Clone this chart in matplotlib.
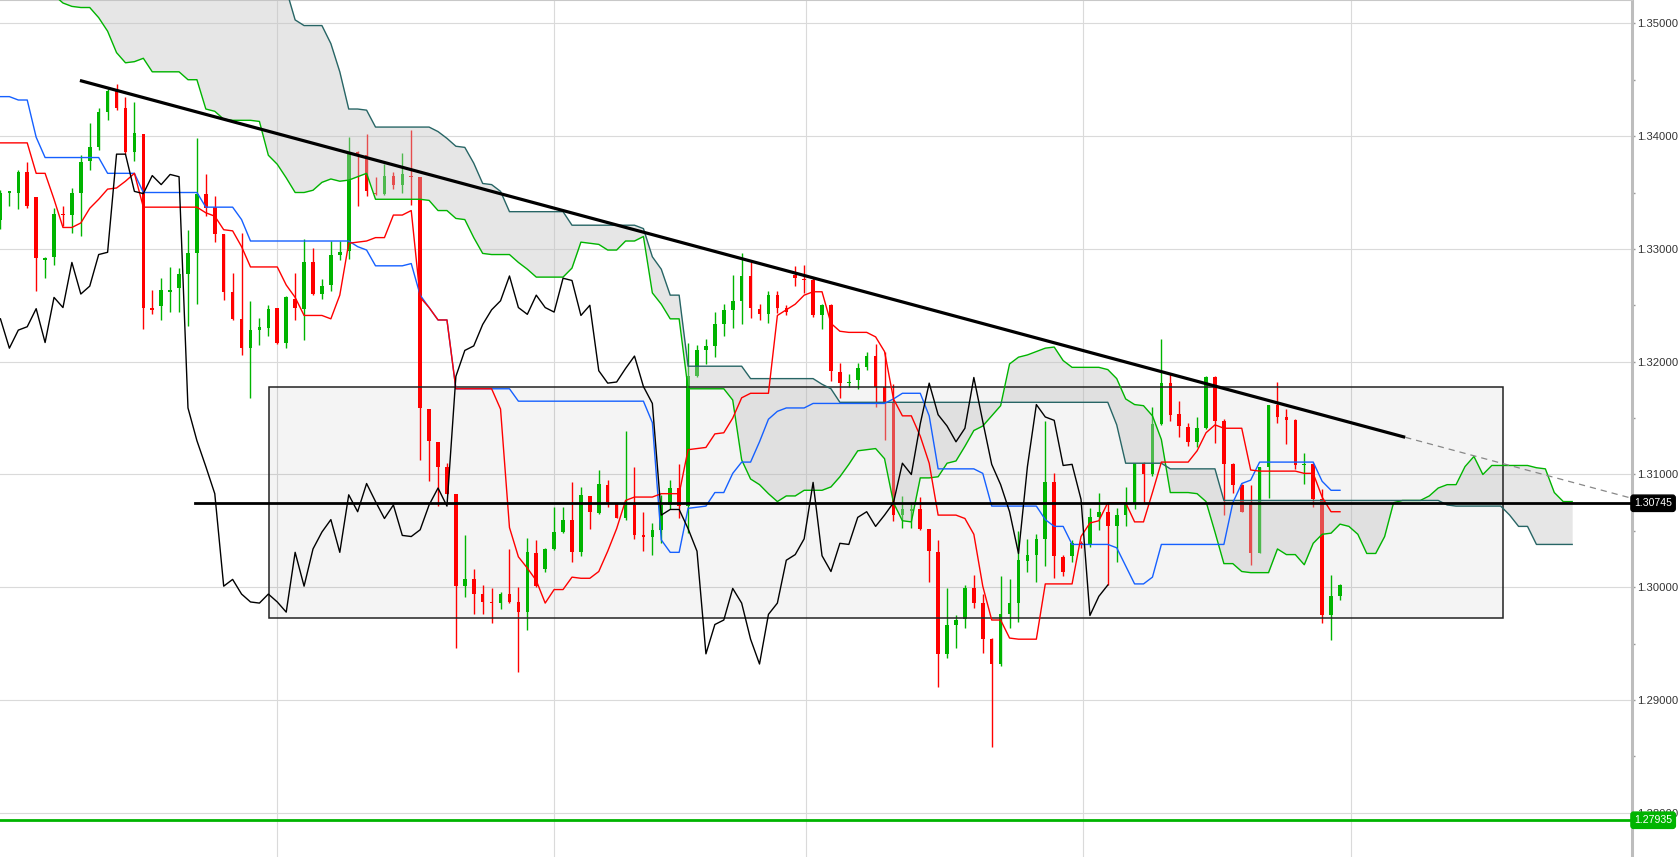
import matplotlib
matplotlib.use("Agg")
import matplotlib.pyplot as plt
from matplotlib.patches import Rectangle
from matplotlib.ticker import MultipleLocator, FormatStrFormatter
import numpy as np

plt.rcParams['font.family'] = ['Liberation Sans', 'DejaVu Sans']

# candles (one per period, index 0..150)
opens = [
    1.3326, 1.3350, 1.3350, 1.3368, 1.3346, 1.3290, 1.3293, 1.3331, 1.3330, 1.3350,
    1.3378, 1.3390, 1.3421, 1.3440, 1.3425, 1.3386, 1.3402, 1.3248, 1.3249, 1.3262,
    1.3265, 1.3278, 1.3296, 1.3349, 1.3337, 1.3313, 1.3262, 1.3238, 1.3212, 1.3228,
    1.3230, 1.3248, 1.3217, 1.3256, 1.3247, 1.3288, 1.3260, 1.3268, 1.3295, 1.3298,
    1.3386, 1.3383, 1.3350, 1.3349, 1.3365, 1.3357, 1.3365, 1.3364, 1.3158, 1.3129,
    1.3107, 1.3083, 1.3001, 1.3007, 1.2994, 1.2987, 1.2986, 1.2994, 1.2987, 1.2978,
    1.3030, 1.3016, 1.3034, 1.3049, 1.3060, 1.3031, 1.3081, 1.3066, 1.3091, 1.3074,
    1.3061, 1.3073, 1.3046, 1.3045, 1.3051, 1.3073, 1.3088, 1.3072, 1.3187, 1.3210,
    1.3214, 1.3233, 1.3246, 1.3254, 1.3276, 1.3247, 1.3242, 1.3259, 1.3248, 1.3277,
    1.3273, 1.3272, 1.3241, 1.3250, 1.3191, 1.3181, 1.3184, 1.3195, 1.3205, 1.3178,
    1.3163, 1.3064, 1.3068, 1.3069, 1.3052, 1.3031, 1.2941, 1.2967, 1.2972, 1.2999,
    1.2986, 1.2954, 1.2932, 1.2976, 1.2986, 1.3023, 1.3029, 1.3043, 1.3093, 1.3027,
    1.3028, 1.3039, 1.3038, 1.3062, 1.3067, 1.3054, 1.3064, 1.3075, 1.3110, 1.3100,
    1.3145, 1.3181, 1.3154, 1.3142, 1.3129, 1.3141, 1.3186, 1.3147, 1.3109, 1.3091,
    1.3075, 1.3030, 1.3107, 1.3162, 1.3151, 1.3148, 1.3108, 1.3109, 1.3078, 1.2975,
    1.2992,
]
highs = [
    1.3352, 1.3351, 1.3370, 1.3377, 1.3346, 1.3293, 1.3336, 1.3338, 1.3354, 1.3383,
    1.3412, 1.3425, 1.3442, 1.3446, 1.3435, 1.3430, 1.3402, 1.3264, 1.3274, 1.3284,
    1.3283, 1.3317, 1.3398, 1.3366, 1.3347, 1.3313, 1.3279, 1.3314, 1.3254, 1.3239,
    1.3250, 1.3248, 1.3258, 1.3279, 1.3309, 1.3301, 1.3273, 1.3307, 1.3307, 1.3399,
    1.3387, 1.3402, 1.3364, 1.3375, 1.3368, 1.3385, 1.3405, 1.3364, 1.3158, 1.3129,
    1.3110, 1.3083, 1.3046, 1.3016, 1.3002, 1.2999, 1.2996, 1.3034, 1.3000, 1.3044,
    1.3042, 1.3035, 1.3071, 1.3071, 1.3093, 1.3089, 1.3081, 1.3104, 1.3095, 1.3074,
    1.3139, 1.3107, 1.3067, 1.3057, 1.3082, 1.3095, 1.3109, 1.3217, 1.3215, 1.3220,
    1.3244, 1.3251, 1.3277, 1.3296, 1.3288, 1.3251, 1.3263, 1.3263, 1.3250, 1.3285,
    1.3286, 1.3274, 1.3251, 1.3251, 1.3199, 1.3189, 1.3199, 1.3209, 1.3216, 1.3209,
    1.3180, 1.3081, 1.3075, 1.3080, 1.3052, 1.3042, 1.2999, 1.2975, 1.3002, 1.3011,
    1.2994, 1.2955, 1.3010, 1.3007, 1.3050, 1.3043, 1.3047, 1.3147, 1.3101, 1.3029,
    1.3042, 1.3041, 1.3070, 1.3084, 1.3075, 1.3070, 1.3089, 1.3110, 1.3111, 1.3160,
    1.3220, 1.3189, 1.3165, 1.3146, 1.3151, 1.3187, 1.3187, 1.3149, 1.3110, 1.3092,
    1.3091, 1.3107, 1.3162, 1.3182, 1.3158, 1.3149, 1.3119, 1.3110, 1.3087, 1.3011,
    1.3003,
]
lows = [
    1.3318, 1.3338, 1.3335, 1.3336, 1.3263, 1.3274, 1.3286, 1.3320, 1.3314, 1.3311,
    1.3370, 1.3388, 1.3414, 1.3423, 1.3384, 1.3378, 1.3229, 1.3242, 1.3237, 1.3244,
    1.3244, 1.3232, 1.3251, 1.3329, 1.3306, 1.3255, 1.3237, 1.3206, 1.3168, 1.3215,
    1.3223, 1.3216, 1.3212, 1.3237, 1.3219, 1.3259, 1.3256, 1.3263, 1.3290, 1.3291,
    1.3338, 1.3347, 1.3348, 1.3348, 1.3353, 1.3350, 1.3339, 1.3113, 1.3094, 1.3072,
    1.3083, 1.2946, 1.2991, 1.2976, 1.2976, 1.2968, 1.2981, 1.2986, 1.2925, 1.2962,
    1.3000, 1.3014, 1.3033, 1.3048, 1.3022, 1.3028, 1.3052, 1.3065, 1.3071, 1.3061,
    1.3060, 1.3043, 1.3032, 1.3029, 1.3039, 1.3069, 1.3061, 1.3048, 1.3186, 1.3198,
    1.3204, 1.3223, 1.3230, 1.3233, 1.3239, 1.3237, 1.3234, 1.3243, 1.3241, 1.3267,
    1.3261, 1.3240, 1.3229, 1.3183, 1.3168, 1.3178, 1.3176, 1.3193, 1.3160, 1.3131,
    1.3059, 1.3053, 1.3053, 1.3051, 1.3005, 1.2912, 1.2937, 1.2946, 1.2964, 1.2982,
    1.2942, 1.2858, 1.2930, 1.2964, 1.2969, 1.3014, 1.3005, 1.3019, 1.3008, 1.3010,
    1.3022, 1.3035, 1.3036, 1.3051, 1.3002, 1.3022, 1.3054, 1.3069, 1.3075, 1.3099,
    1.3144, 1.3147, 1.3133, 1.3125, 1.3124, 1.3140, 1.3128, 1.3064, 1.3084, 1.3067,
    1.3020, 1.3030, 1.3079, 1.3146, 1.3127, 1.3105, 1.3092, 1.3071, 1.2968, 1.2953,
    1.2989,
]
closes = [
    1.3350, 1.3351, 1.3368, 1.3338, 1.3292, 1.3292, 1.3331, 1.3330, 1.3350, 1.3377,
    1.3390, 1.3421, 1.3440, 1.3425, 1.3386, 1.3403, 1.3248, 1.3246, 1.3264, 1.3264,
    1.3278, 1.3296, 1.3349, 1.3336, 1.3313, 1.3262, 1.3238, 1.3212, 1.3228, 1.3231,
    1.3247, 1.3217, 1.3257, 1.3248, 1.3288, 1.3260, 1.3267, 1.3295, 1.3297, 1.3384,
    1.3384, 1.3351, 1.3349, 1.3365, 1.3357, 1.3366, 1.3364, 1.3159, 1.3130, 1.3107,
    1.3083, 1.3001, 1.3007, 1.2994, 1.2987, 1.2986, 1.2994, 1.2987, 1.2978, 1.3031,
    1.3001, 1.3034, 1.3049, 1.3060, 1.3031, 1.3082, 1.3067, 1.3092, 1.3076, 1.3061,
    1.3073, 1.3046, 1.3045, 1.3051, 1.3073, 1.3088, 1.3072, 1.3187, 1.3210, 1.3214,
    1.3233, 1.3246, 1.3254, 1.3276, 1.3248, 1.3242, 1.3259, 1.3248, 1.3244, 1.3274,
    1.3272, 1.3241, 1.3250, 1.3192, 1.3181, 1.3182, 1.3194, 1.3205, 1.3178, 1.3163,
    1.3064, 1.3069, 1.3069, 1.3052, 1.3032, 1.2941, 1.2967, 1.2971, 1.2999, 1.2986,
    1.2954, 1.2932, 1.2976, 1.2986, 1.3024, 1.3029, 1.3043, 1.3093, 1.3028, 1.3014,
    1.3039, 1.3038, 1.3062, 1.3067, 1.3054, 1.3064, 1.3075, 1.3110, 1.3100, 1.3145,
    1.3181, 1.3153, 1.3143, 1.3129, 1.3141, 1.3186, 1.3147, 1.3109, 1.3091, 1.3067,
    1.3030, 1.3107, 1.3162, 1.3151, 1.3148, 1.3108, 1.3109, 1.3078, 1.2975, 1.2992,
    1.3002,
]

# ichimoku lines
tenkan = [
    1.3394, 1.3394, 1.3394, 1.3394, 1.3367, 1.3367, 1.3344, 1.3319, 1.3319, 1.3323,
    1.3336, 1.3344, 1.3353, 1.3354, 1.3360, 1.3367, 1.3337, 1.3337, 1.3337, 1.3337,
    1.3337, 1.3337, 1.3337, 1.3332, 1.3329, 1.3317, 1.3316, 1.3302, 1.3284, 1.3284,
    1.3284, 1.3284, 1.3268, 1.3257, 1.3241, 1.3241, 1.3241, 1.3238, 1.3259, 1.3305,
    1.3306, 1.3307, 1.3310, 1.3310, 1.3330, 1.3330, 1.3334, 1.3257, 1.3248, 1.3237,
    1.3237, 1.3176, 1.3176, 1.3176, 1.3176, 1.3176, 1.3158, 1.3053, 1.3027, 1.3017,
    1.3006, 1.2986, 1.2998, 1.2998, 1.3009, 1.3008, 1.3008, 1.3014, 1.3032, 1.3052,
    1.3077, 1.3080, 1.3080, 1.3080, 1.3083, 1.3083, 1.3083, 1.3122, 1.3123, 1.3124,
    1.3136, 1.3137, 1.3150, 1.3168, 1.3172, 1.3172, 1.3172, 1.3241, 1.3246, 1.3251,
    1.3259, 1.3262, 1.3262, 1.3234, 1.3227, 1.3226, 1.3226, 1.3226, 1.3222, 1.3209,
    1.3167, 1.3152, 1.3152, 1.3134, 1.3110, 1.3064, 1.3064, 1.3064, 1.3061, 1.3047,
    1.3001, 1.2971, 1.2971, 1.2955, 1.2954, 1.2954, 1.2954, 1.3003, 1.3003, 1.3003,
    1.3003, 1.3045, 1.3057, 1.3059, 1.3075, 1.3075, 1.3075, 1.3058, 1.3058, 1.3084,
    1.3111, 1.3111, 1.3111, 1.3111, 1.3121, 1.3137, 1.3144, 1.3141, 1.3141, 1.3141,
    1.3104, 1.3103, 1.3103, 1.3103, 1.3103, 1.3103, 1.3101, 1.3101, 1.3080, 1.3067,
    1.3067,
]
kijun = [
    1.3435, 1.3435, 1.3432, 1.3432, 1.3399, 1.3381, 1.3381, 1.3381, 1.3381, 1.3381,
    1.3381, 1.3381, 1.3367, 1.3367, 1.3367, 1.3367, 1.3350, 1.3350, 1.3350, 1.3350,
    1.3350, 1.3350, 1.3350, 1.3337, 1.3337, 1.3337, 1.3337, 1.3326, 1.3307, 1.3307,
    1.3307, 1.3307, 1.3307, 1.3307, 1.3307, 1.3307, 1.3307, 1.3307, 1.3307, 1.3307,
    1.3302, 1.3299, 1.3285, 1.3285, 1.3285, 1.3285, 1.3287, 1.3259, 1.3248, 1.3237,
    1.3237, 1.3176, 1.3176, 1.3176, 1.3176, 1.3176, 1.3176, 1.3176, 1.3165, 1.3165,
    1.3165, 1.3165, 1.3165, 1.3165, 1.3165, 1.3165, 1.3165, 1.3165, 1.3165, 1.3165,
    1.3165, 1.3165, 1.3165, 1.3146, 1.3042, 1.3031, 1.3031, 1.3070, 1.3071, 1.3072,
    1.3084, 1.3084, 1.3101, 1.3111, 1.3111, 1.3129, 1.3149, 1.3156, 1.3159, 1.3159,
    1.3159, 1.3163, 1.3163, 1.3163, 1.3163, 1.3163, 1.3163, 1.3163, 1.3163, 1.3163,
    1.3167, 1.3172, 1.3172, 1.3172, 1.3152, 1.3105, 1.3105, 1.3105, 1.3105, 1.3105,
    1.3101, 1.3072, 1.3072, 1.3072, 1.3072, 1.3072, 1.3072, 1.3060, 1.3054, 1.3054,
    1.3038, 1.3038, 1.3038, 1.3038, 1.3038, 1.3035, 1.3019, 1.3003, 1.3003, 1.3009,
    1.3038, 1.3038, 1.3038, 1.3038, 1.3038, 1.3038, 1.3038, 1.3038, 1.3075, 1.3092,
    1.3095, 1.3111, 1.3111, 1.3111, 1.3111, 1.3111, 1.3111, 1.3111, 1.3094, 1.3086,
    1.3086,
]
# senkou spans, already displaced 26 periods ahead (index 0..176)
senkou_a = [
    1.3560, 1.3555, 1.3550, 1.3545, 1.3540, 1.3532, 1.3525, 1.3518, 1.3515, 1.3514,
    1.3514, 1.3505, 1.3493, 1.3474, 1.3465, 1.3466, 1.3469, 1.3457, 1.3457, 1.3457,
    1.3457, 1.3450, 1.3450, 1.3424, 1.3422, 1.3415, 1.3414, 1.3414, 1.3414, 1.3413,
    1.3383, 1.3375, 1.3363, 1.3350, 1.3350, 1.3352, 1.3359, 1.3362, 1.3360, 1.3361,
    1.3364, 1.3367, 1.3344, 1.3344, 1.3344, 1.3344, 1.3344, 1.3344, 1.3343, 1.3334,
    1.3334, 1.3327, 1.3326, 1.3310, 1.3296, 1.3295, 1.3295, 1.3295, 1.3288, 1.3282,
    1.3275, 1.3275, 1.3275, 1.3275, 1.3283, 1.3306, 1.3305, 1.3304, 1.3299, 1.3299,
    1.3307, 1.3307, 1.3311, 1.3261, 1.3251, 1.3238, 1.3238, 1.3176, 1.3176, 1.3176,
    1.3176, 1.3176, 1.3166, 1.3113, 1.3096, 1.3091, 1.3083, 1.3076, 1.3081, 1.3081,
    1.3086, 1.3086, 1.3086, 1.3089, 1.3098, 1.3109, 1.3121, 1.3122, 1.3123, 1.3114,
    1.3075, 1.3059, 1.3058, 1.3097, 1.3097, 1.3098, 1.3110, 1.3112, 1.3125, 1.3139,
    1.3143, 1.3152, 1.3161, 1.3198, 1.3204, 1.3206, 1.3209, 1.3212, 1.3213, 1.3201,
    1.3195, 1.3195, 1.3195, 1.3195, 1.3193, 1.3185, 1.3167, 1.3162, 1.3161, 1.3152,
    1.3131, 1.3084, 1.3084, 1.3084, 1.3083, 1.3076, 1.3049, 1.3021, 1.3021, 1.3014,
    1.3013, 1.3013, 1.3013, 1.3034, 1.3029, 1.3029, 1.3020, 1.3039, 1.3047, 1.3048,
    1.3056, 1.3054, 1.3047, 1.3030, 1.3030, 1.3045, 1.3075, 1.3077, 1.3077, 1.3077,
    1.3081, 1.3088, 1.3091, 1.3091, 1.3107, 1.3116, 1.3100, 1.3108, 1.3108, 1.3108,
    1.3108, 1.3108, 1.3106, 1.3105, 1.3084, 1.3076, 1.3076,
]
senkou_b = [
    1.3580, 1.3580, 1.3580, 1.3580, 1.3580, 1.3580, 1.3580, 1.3580, 1.3580, 1.3580,
    1.3580, 1.3580, 1.3580, 1.3580, 1.3580, 1.3580, 1.3580, 1.3580, 1.3580, 1.3580,
    1.3580, 1.3580, 1.3580, 1.3580, 1.3580, 1.3580, 1.3580, 1.3580, 1.3580, 1.3580,
    1.3580, 1.3580, 1.3530, 1.3503, 1.3498, 1.3498, 1.3498, 1.3482, 1.3457, 1.3424,
    1.3424, 1.3423, 1.3408, 1.3408, 1.3408, 1.3408, 1.3408, 1.3408, 1.3408, 1.3404,
    1.3398, 1.3391, 1.3390, 1.3376, 1.3358, 1.3357, 1.3351, 1.3333, 1.3333, 1.3333,
    1.3333, 1.3333, 1.3333, 1.3333, 1.3321, 1.3321, 1.3321, 1.3321, 1.3321, 1.3321,
    1.3321, 1.3321, 1.3318, 1.3293, 1.3282, 1.3259, 1.3259, 1.3196, 1.3196, 1.3196,
    1.3196, 1.3196, 1.3196, 1.3196, 1.3185, 1.3185, 1.3185, 1.3185, 1.3185, 1.3185,
    1.3185, 1.3185, 1.3180, 1.3176, 1.3164, 1.3164, 1.3164, 1.3164, 1.3164, 1.3164,
    1.3164, 1.3164, 1.3164, 1.3164, 1.3164, 1.3164, 1.3164, 1.3164, 1.3164, 1.3164,
    1.3164, 1.3164, 1.3164, 1.3164, 1.3164, 1.3164, 1.3164, 1.3164, 1.3164, 1.3164,
    1.3164, 1.3164, 1.3164, 1.3164, 1.3164, 1.3144, 1.3110, 1.3110, 1.3110, 1.3110,
    1.3110, 1.3105, 1.3105, 1.3105, 1.3105, 1.3105, 1.3105, 1.3077, 1.3077, 1.3077,
    1.3077, 1.3077, 1.3077, 1.3077, 1.3077, 1.3077, 1.3077, 1.3077, 1.3077, 1.3077,
    1.3077, 1.3077, 1.3077, 1.3077, 1.3077, 1.3077, 1.3077, 1.3077, 1.3077, 1.3077,
    1.3077, 1.3077, 1.3073, 1.3072, 1.3072, 1.3072, 1.3072, 1.3072, 1.3072, 1.3064,
    1.3054, 1.3054, 1.3038, 1.3038, 1.3038, 1.3038, 1.3038,
]
chikou_shift = 26

# drawn objects
trend_start = (8.9, 1.34493)
trend_end = (157.3, 1.31330)
range_box = (30.05, 168.2, 1.29730, 1.31777)   # x0, x1, y_low, y_high
level_price = 1.30745
level_start = 21.8
support_price = 1.27935
month_lines = [31.0, 62.0, 90.2, 121.2, 151.2]

GREEN = '#00b400'
RED = '#ff0000'

fig = plt.figure(figsize=(16.79, 8.57), dpi=100)
ax = fig.add_axes([0, 0, 1632 / 1679, 1])
ax.set_xlim(-0.05, 182.7)
ax.set_ylim(1.27609, 1.352066)

o = np.array(opens)
h = np.array(highs)
l = np.array(lows)
c = np.array(closes)
idx = np.arange(len(o))
up = c >= o
cols = np.where(up, GREEN, RED)

# range box
x0, x1, y0, y1 = range_box
ax.add_patch(Rectangle((x0, y0), x1 - x0, y1 - y0, facecolor=(0, 0, 0, 0.045),
                       edgecolor='none', zorder=1))
ax.add_patch(Rectangle((x0, y0), x1 - x0, y1 - y0, facecolor='none',
                       edgecolor='#222222', lw=1.1, zorder=4))

# candles
ax.vlines(idx, l, h, colors=cols, lw=1.0, zorder=2)
body_lo = np.minimum(o, c)
body_h = np.maximum(np.abs(c - o), 0.00008)
ax.bar(idx, body_h, bottom=body_lo, width=0.4, color=cols, lw=0, zorder=2)

# cloud
cidx = np.arange(len(senkou_a))
ax.fill_between(cidx, senkou_a, senkou_b, color='#c2c2c2', alpha=0.4, lw=0, zorder=3)
ax.plot(cidx, senkou_a, color=GREEN, lw=1.0, zorder=4)
ax.plot(cidx, senkou_b, color='#276565', lw=1.0, zorder=4)

# kijun under tenkan, then chikou
ax.plot(idx, kijun, color='#1560ff', lw=1.0, zorder=4)
ax.plot(idx, tenkan, color=RED, lw=1.0, zorder=4)
ax.plot(idx[:-chikou_shift], c[chikou_shift:], color='black', lw=1.0, zorder=4)

# trend line + projection
ax.plot([trend_start[0], trend_end[0]], [trend_start[1], trend_end[1]],
        color='black', lw=2.3, zorder=5, solid_capstyle='butt')
slope = (trend_end[1] - trend_start[1]) / (trend_end[0] - trend_start[0])
x_right = ax.get_xlim()[1]
ax.plot([trend_end[0], x_right], [trend_end[1], trend_end[1] + slope * (x_right - trend_end[0])],
        color='#888888', lw=0.9, ls=(0, (5, 4)), zorder=5)

# levels
ax.plot([level_start, x_right], [level_price, level_price], color='black', lw=2.0, zorder=5)
ax.axhline(support_price, color=GREEN, lw=2.0, zorder=5)

# axes styling
ax.set_facecolor('white')
ax.yaxis.tick_right()
ax.yaxis.set_major_locator(MultipleLocator(0.01))
ax.yaxis.set_minor_locator(MultipleLocator(0.005))
ax.yaxis.set_major_formatter(FormatStrFormatter('%.5f'))
ax.tick_params(axis='y', which='both', direction='out', color='#999999', width=1,
               labelsize=8.1, labelcolor='#333333', pad=1.0)
ax.tick_params(axis='y', which='major', length=2.5)
ax.tick_params(axis='y', which='minor', length=2)
ax.set_xticks(month_lines)
ax.tick_params(axis='x', length=0, labelbottom=False)
ax.grid(True, which='major', color='#dadada', lw=0.8, zorder=0)
ax.set_axisbelow(True)
for side in ('left', 'bottom'):
    ax.spines[side].set_visible(False)
ax.spines['right'].set_color('#bdbdbd')
ax.spines['right'].set_linewidth(2.2)
ax.spines['top'].set_color('#c8c8c8')
ax.spines['top'].set_linewidth(1.5)

# price tags (the green one sits over the 1.28000 label, as in the source chart)
for price, bg in ((level_price, 'black'), (support_price, GREEN)):
    ax.annotate(f'{price:.5f}', xy=(1.0, price), xycoords=('axes fraction', 'data'),
                xytext=(1.5, 0), textcoords='offset points', ha='left', va='center',
                fontsize=7.6, color='white', zorder=10, annotation_clip=False,
                bbox=dict(boxstyle='round,pad=0.3,rounding_size=0.25', fc=bg, ec=bg))

fig.savefig('out.png', dpi=100, facecolor='white')
